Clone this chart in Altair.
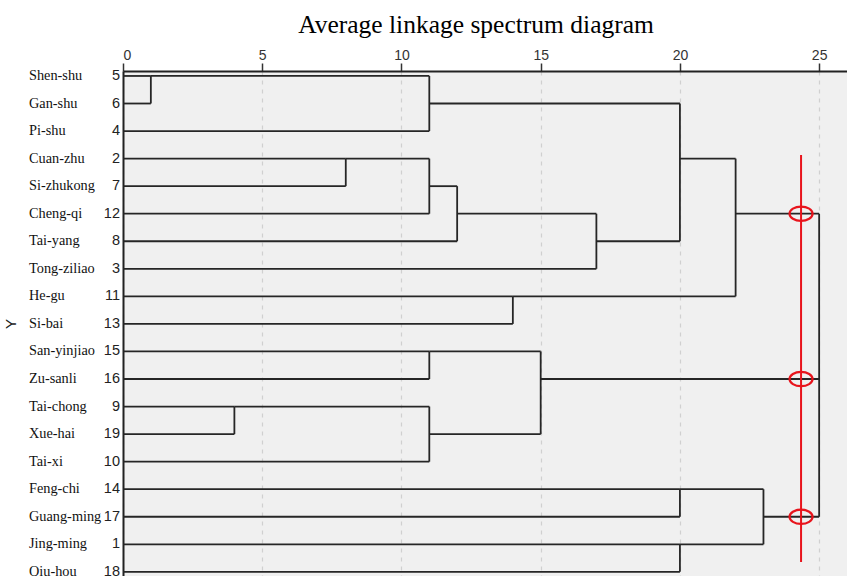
import altair as alt
import pandas as pd

leaf_names = ["Shen-shu", "Gan-shu", "Pi-shu", "Cuan-zhu", "Si-zhukong", "Cheng-qi",
              "Tai-yang", "Tong-ziliao", "He-gu", "Si-bai", "San-yinjiao", "Zu-sanli",
              "Tai-chong", "Xue-hai", "Tai-xi", "Feng-chi", "Guang-ming", "Jing-ming", "Qiu-hou"]
leaf_ids = [5, 6, 4, 2, 7, 12, 8, 3, 11, 13, 15, 16, 9, 19, 10, 14, 17, 1, 18]

# merges: (children node ids, merge distance, row where the merged cluster line continues)
merge_children = [[0, 1], [19, 2], [3, 4], [21, 5], [22, 6], [23, 7], [20, 24], [8, 9],
                  [25, 26], [10, 11], [12, 13], [29, 14], [28, 30], [15, 16], [17, 18],
                  [32, 33], [27, 31, 34]]
merge_heights = [1, 11, 8, 11, 12, 17, 20, 14, 22, 11, 4, 11, 15, 20, 20, 23, 25]
merge_rows = [0, 1, 3, 4, 5, 6, 3, 8, 5, 10, 12, 13, 11, 15, 17, 16, 11]

cut_x = [24.35]
cut_span = [2.87, 17.64]
cut_rows = [5, 11, 16]

# build segments
node_x = [0.0] * len(leaf_names)
node_row = list(range(len(leaf_names)))
segs = []
for ch, h, r in zip(merge_children, merge_heights, merge_rows):
    rows = []
    for c in ch:
        segs.append({"x": node_x[c], "x2": h, "y": node_row[c], "y2": node_row[c]})
        rows.append(node_row[c])
    segs.append({"x": h, "x2": h, "y": min(rows), "y2": max(rows)})
    node_x.append(h)
    node_row.append(r)
seg_df = pd.DataFrame(segs)

leaf_df = pd.DataFrame({"row": list(range(len(leaf_names))), "name": leaf_names,
                        "num": [str(v) for v in leaf_ids]})

xs = alt.Scale(domain=[0, 26.0], nice=False, zero=False)
ys = alt.Scale(domain=[-0.18, 18.15], reverse=True, nice=False, zero=False)

base_x_axis = alt.Axis(orient="top", values=[0, 5, 10, 15, 20, 25], tickSize=8,
                       labelFont="Liberation Sans", labelFontSize=14, labelColor="#333",
                       labelPadding=1, domainColor="#222", domainWidth=2,
                       tickColor="#333", tickWidth=1.5,
                       grid=True, gridColor="#d0d0d0", gridDash=[4, 5], gridWidth=1.2,
                       title=None)
y_axis = alt.Axis(labels=False, ticks=False, grid=False, domainColor="#222",
                  domainWidth=2, title=None)

dendro = alt.Chart(seg_df).mark_rule(color="#262626", strokeWidth=1.8).encode(
    x=alt.X("x:Q", scale=xs, axis=base_x_axis),
    x2="x2:Q",
    y=alt.Y("y:Q", scale=ys, axis=y_axis),
    y2="y2:Q",
)

names = alt.Chart(leaf_df).mark_text(align="left", baseline="middle", font="Liberation Serif",
                                     fontSize=14.3, color="#111").encode(
    x=alt.value(-94), y=alt.Y("row:Q", scale=ys), text="name:N")
nums = alt.Chart(leaf_df).mark_text(align="right", baseline="middle", font="Liberation Sans",
                                    fontSize=14.5, color="#222").encode(
    x=alt.value(-3), y=alt.Y("row:Q", scale=ys), text="num:N")

ytitle = alt.Chart(pd.DataFrame({"row": [9], "t": ["Y"]})).mark_text(
    angle=270, align="center", baseline="middle", font="Liberation Sans", fontSize=15,
    color="#222").encode(x=alt.value(-112), y=alt.Y("row:Q", scale=ys), text="t:N")

title = alt.Chart(pd.DataFrame({"t": ["Average linkage spectrum diagram"]})).mark_text(
    align="center", baseline="alphabetic", font="Liberation Serif", fontSize=25.5,
    color="#000").encode(x=alt.value(353), y=alt.value(-38), text="t:N")

cut_df = pd.DataFrame({"x": cut_x, "y": [cut_span[0]], "y2": [cut_span[1]]})
cut = alt.Chart(cut_df).mark_rule(color="#e8141c", strokeWidth=2).encode(
    x=alt.X("x:Q", scale=xs), y=alt.Y("y:Q", scale=ys), y2="y2:Q")

ell_df = pd.DataFrame({"x": cut_x * len(cut_rows), "row": cut_rows})
ellipse = "M -1 0 A 1 0.62 0 1 0 1 0 A 1 0.62 0 1 0 -1 0 Z"
ells = alt.Chart(ell_df).mark_point(shape=ellipse, size=530, filled=False, color="#e8141c",
                                    strokeWidth=2.2, opacity=1).encode(
    x=alt.X("x:Q", scale=xs), y=alt.Y("row:Q", scale=ys))

chart = alt.layer(dendro, cut, ells, names, nums, ytitle, title).properties(
    width=724, height=505,
    autosize=alt.AutoSizeParams(type="none"),
    padding={"left": 123, "top": 71, "right": 0, "bottom": 0},
    background="white",
).configure_view(fill="#f0f0f0", stroke=None)

chart.save("out.html", embed_options={"renderer": "svg", "actions": False})
